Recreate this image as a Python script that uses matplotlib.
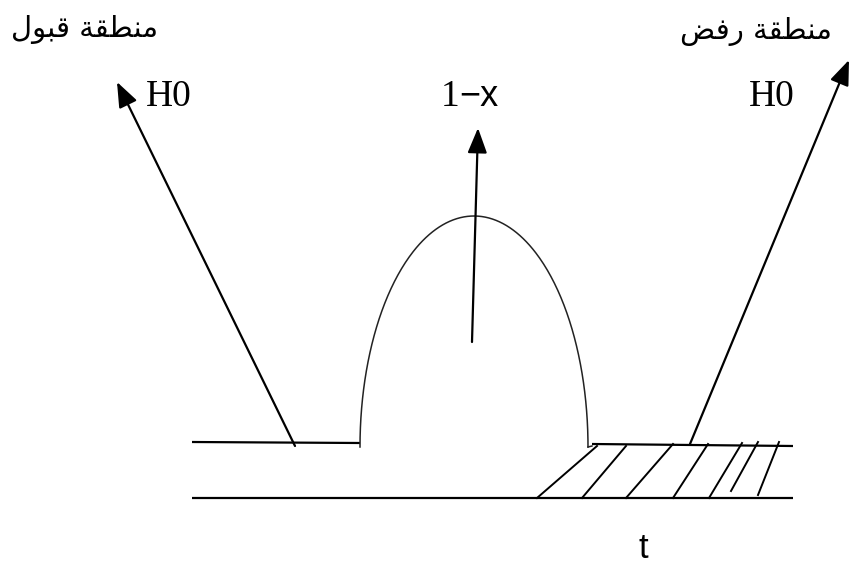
import matplotlib
matplotlib.use("Agg")
import matplotlib.pyplot as plt
import numpy as np

# ---- diagram data (pixel-space coordinates of the reference) ----
base_line_x = [192, 793]
base_line_y = [498, 498]
left_upper_x = [192, 360]
left_upper_y = [442, 443]
right_upper_x = [592, 793]
right_upper_y = [444, 446]
arc_center_x = 474
arc_half_width = 114
arc_base_y = 447
arc_height = 231
# hatch segments: bottom (x, y) -> top (x, y)
hatch_x0 = [537, 582, 626, 673, 709, 731, 758]
hatch_y0 = [498, 498, 498, 498, 498, 491, 495]
hatch_x1 = [597, 626, 673, 708, 742, 758, 779]
hatch_y1 = [446, 446, 444, 444, 443, 442, 442]
# arrows: tail -> head
arrow_tail_x = [295, 472, 690]
arrow_tail_y = [446, 342, 444]
arrow_head_x = [117, 478, 849]
arrow_head_y = [82, 128, 60]
# labels
label_accept = "\uFEDD\uFEEE\uFE92\uFED7 \uFE94\uFED8\uFEC4\uFEE8\uFEE3"   # منطقة قبول (shaped, visual order)
label_reject = "\uFEBE\uFED3\uFEAD \uFE94\uFED8\uFEC4\uFEE8\uFEE3"         # منطقة رفض (shaped, visual order)
label_h0 = "H0"
label_one = "1"
label_minus_x = "\u2212x"
label_t = "t"

W, H = 852, 573
fig = plt.figure(figsize=(W / 100, H / 100), dpi=100)
ax = fig.add_axes([0, 0, 1, 1])
ax.set_xlim(0, W)
ax.set_ylim(H, 0)
ax.axis("off")

lw = 1.6
ax.plot(base_line_x, base_line_y, color="black", lw=lw, solid_capstyle="butt")
ax.plot(left_upper_x, left_upper_y, color="black", lw=lw, solid_capstyle="butt")
ax.plot(right_upper_x, right_upper_y, color="black", lw=lw, solid_capstyle="butt")

# bell-shaped arc (half ellipse)
theta = np.linspace(0, np.pi, 300)
ax.plot(arc_center_x - arc_half_width * np.cos(theta),
        arc_base_y - arc_height * np.sin(theta),
        color="#222222", lw=1.1)
ax.plot([arc_center_x + arc_half_width, arc_center_x + arc_half_width + 4],
        [arc_base_y, arc_base_y - 1], color="#222222", lw=1.1)

for x0, y0, x1, y1 in zip(hatch_x0, hatch_y0, hatch_x1, hatch_y1):
    ax.plot([x0, x1], [y0, y1], color="black", lw=1.4)

for tx, ty, hx, hy in zip(arrow_tail_x, arrow_tail_y, arrow_head_x, arrow_head_y):
    ax.annotate("", xy=(hx, hy), xytext=(tx, ty),
                arrowprops=dict(arrowstyle="-|>,head_length=0.9,head_width=0.35",
                                color="black", lw=lw, shrinkA=0, shrinkB=0,
                                mutation_scale=17))

ax.text(85, 29, label_accept, fontsize=21, family=["DejaVu Sans"],
        ha="center", va="center")
ax.text(756, 31, label_reject, fontsize=21, family=["DejaVu Sans"],
        ha="center", va="center")
ax.text(169, 97, label_h0, fontsize=27, family=["Liberation Serif"],
        ha="center", va="center")
ax.text(772, 97, label_h0, fontsize=27, family=["Liberation Serif"],
        ha="center", va="center")
ax.text(459, 97, label_one, fontsize=27, family=["Liberation Serif"],
        ha="right", va="center")
ax.text(459, 97, label_minus_x, fontsize=26, family=["Liberation Sans"],
        ha="left", va="center")
ax.text(643, 549, label_t, fontsize=25, family=["Liberation Sans"],
        ha="center", va="center")

fig.savefig("out.png", dpi=100, facecolor="white")
